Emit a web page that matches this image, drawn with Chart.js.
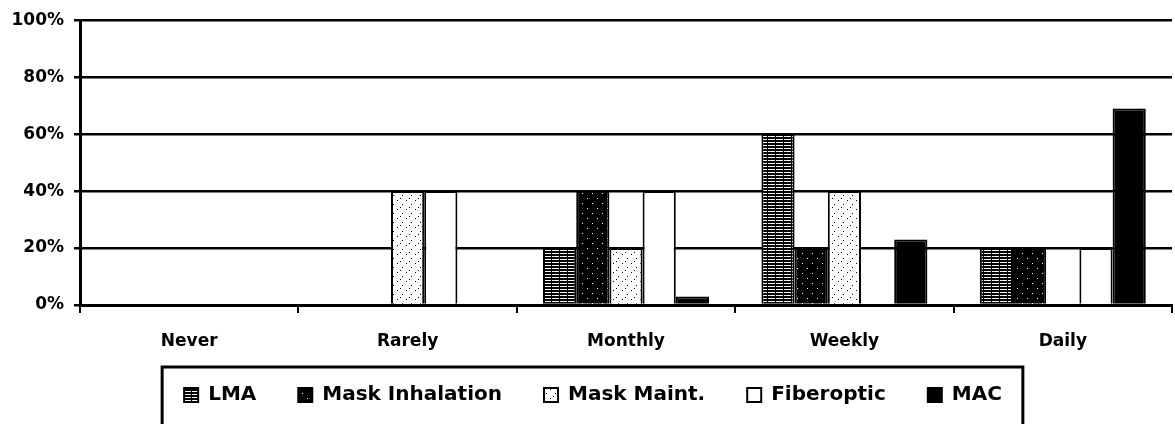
<!DOCTYPE html>
<html>
<head>
<meta charset="utf-8">
<script src="https://cdn.jsdelivr.net/npm/chart.js@4.4.1/dist/chart.umd.min.js"></script>
<style>
  html, body { margin: 0; padding: 0; background: #fff; }
  #wrap { width: 1175px; height: 424px; position: relative; }
</style>
</head>
<body>
<div id="wrap"><canvas id="c" width="1175" height="424"></canvas></div>
<script>
const categories = ['Never', 'Rarely', 'Monthly', 'Weekly', 'Daily'];
const seriesNames = ['LMA', 'Mask Inhalation', 'Mask Maint.', 'Fiberoptic', 'MAC'];
const lma = [0, 0, 20, 60, 20];
const maskInhalation = [0, 0, 40, 20, 20];
const maskMaint = [0, 40, 20, 40, 0];
const fiberoptic = [0, 40, 40, 0, 20];
const mac = [0, 0, 3, 23, 69];
const yTicks = [0, 20, 40, 60, 80, 100];

function makePattern(w, h, bg, fg, pixels) {
  const cv = document.createElement('canvas');
  cv.width = w; cv.height = h;
  const g = cv.getContext('2d');
  g.fillStyle = bg; g.fillRect(0, 0, w, h);
  g.fillStyle = fg;
  pixels.forEach(p => g.fillRect(p[0], p[1], p[2] || 1, p[3] || 1));
  return g.createPattern(cv, 'repeat');
}
const lmaPattern = makePattern(8, 3, '#000', '#fff', [[0, 1, 7, 1]]);
const inhPattern = makePattern(10, 10, '#000', '#fff', [[2, 3], [7, 8]]);
const maintPattern = makePattern(9, 9, '#fff', '#000', [[1, 2], [6, 6], [4, 0]]);

const fills = [lmaPattern, inhPattern, maintPattern, '#fff', '#000'];
const seriesData = [lma, maskInhalation, maskMaint, fiberoptic, mac];

const FONT = 'DejaVu Sans';
Chart.defaults.font.family = FONT;
Chart.defaults.color = '#000';

const legendPlacement = {
  id: 'legendPlacement',
  afterLayout(chart) {
    const lg = chart.legend;
    if (!lg) return;
    lg.top -= 12; lg.bottom -= 12;
    lg.left += 7; lg.right += 7;
  },
  afterDraw(chart) {
    const hb = chart.legend && chart.legend.legendHitBoxes;
    if (!hb || !hb.length) return;
    const last = hb[hb.length - 1];
    const left = hb[0].left - 22;
    const right = last.left + last.width + 21;
    const top = hb[0].top - 18;
    const c = chart.ctx;
    c.save();
    c.strokeStyle = '#000';
    c.lineWidth = 3;
    c.beginPath();
    c.moveTo(left, chart.height + 5);
    c.lineTo(left, top);
    c.lineTo(right, top);
    c.lineTo(right, chart.height + 5);
    c.stroke();
    c.restore();
  }
};

new Chart(document.getElementById('c'), {
  type: 'bar',
  data: {
    labels: categories,
    datasets: seriesNames.map((name, i) => ({
      label: name,
      data: seriesData[i],
      backgroundColor: fills[i],
      borderColor: '#000',
      borderWidth: 2,
      borderSkipped: 'start',
      categoryPercentage: 0.76,
      barPercentage: 1.0
    }))
  },
  options: {
    responsive: false,
    animation: false,
    layout: { padding: { top: 16, left: 0, right: 3, bottom: -3 } },
    plugins: {
      tooltip: { enabled: false },
      legend: {
        position: 'bottom',
        labels: {
          boxWidth: 14,
          boxHeight: 14,
          padding: 42,
          color: '#000',
          font: { family: FONT, size: 20, weight: 'bold' }
        }
      }
    },
    scales: {
      x: {
        z: 1,
        offset: true,
        grid: { offset: true, drawOnChartArea: false, drawTicks: true, tickLength: 8, color: '#000', lineWidth: 2 },
        border: { display: true, color: '#000', width: 3 },
        ticks: { color: '#000', padding: 18, maxRotation: 0, font: { family: FONT, size: 17, weight: 'bold' } },
        afterFit: s => { s.height = 50; }
      },
      y: {
        min: 0,
        max: 100,
        afterBuildTicks: s => { s.ticks = yTicks.map(v => ({ value: v })); },
        grid: { color: '#000', lineWidth: 2.5, tickLength: 6 },
        border: { display: true, color: '#000', width: 3 },
        ticks: { color: '#000', padding: 10, callback: v => v + '%', font: { family: FONT, size: 17, weight: 'bold' } },
        afterFit: s => { s.width = 80; }
      }
    }
  },
  plugins: [legendPlacement]
});
</script>
</body>
</html>
